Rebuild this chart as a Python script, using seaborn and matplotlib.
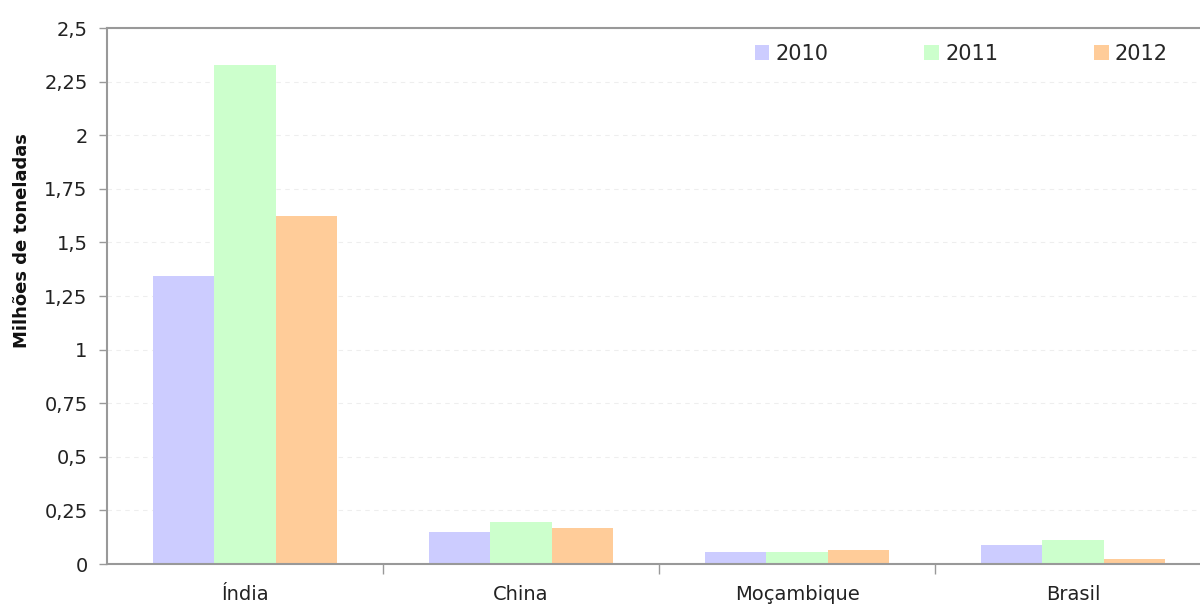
import numpy as np
import pandas as pd
import seaborn as sns
from matplotlib import pyplot as plt
from matplotlib.ticker import FixedLocator, FuncFormatter

# dados
paises = ['Índia', 'China', 'Moçambique', 'Brasil']
anos = ['2010', '2011', '2012']
v2010 = [1.343, 0.149, 0.056, 0.089]
v2011 = [2.327, 0.196, 0.056, 0.112]
v2012 = [1.623, 0.168, 0.065, 0.023]
cores = ['#CCCCFF', '#CCFFCC', '#FFCC99']

df = pd.DataFrame({'pais': paises * 3,
                   'ano': [a for a in anos for _ in paises],
                   'valor': v2010 + v2011 + v2012})

sns.set_theme(style='white')
plt.rcParams['font.family'] = ['DejaVu Sans']

fig = plt.figure(figsize=(12, 6.05), dpi=100)
ax = fig.add_axes([107/1200, 1 - 564/605, 1104/1200, 536/605])

sns.barplot(data=df, x='pais', y='valor', hue='ano', palette=cores,
            width=0.67, saturation=1, edgecolor='none', ax=ax)

ax.set_xlim(-0.5, 3.5)
ax.set_ylim(0, 2.5)
ax.set_yticks(np.arange(0, 2.51, 0.25))
ax.yaxis.set_major_formatter(FuncFormatter(lambda v, p: ('%g' % v).replace('.', ',')))
ax.yaxis.grid(True, color='#eeeeee', linestyle=(0, (4, 4)), linewidth=0.8)
ax.set_axisbelow(True)

ax.xaxis.set_minor_locator(FixedLocator([0.5, 1.5, 2.5]))
ax.tick_params(axis='x', which='major', length=0, labelsize=14, pad=15, colors='#222222')
ax.tick_params(axis='x', which='minor', length=7, width=1, color='#999999', bottom=True)
ax.tick_params(axis='y', length=6, width=1, color='#999999', left=True, labelsize=14,
               colors='#222222', pad=8)

for s in ['left', 'top', 'bottom']:
    ax.spines[s].set_color('#999999')
    ax.spines[s].set_linewidth(1.5)
ax.spines['right'].set_visible(False)

ax.set_xlabel('')
ax.set_ylabel('Milhões de toneladas', fontsize=13, fontweight='bold', labelpad=10, color='#111111')
ax.yaxis.set_label_coords(-0.069, 0.604)

ax.legend(loc='upper right', bbox_to_anchor=(0.978, 1.005), ncol=3, frameon=False,
          fontsize=15, handlelength=0.7, handleheight=0.7, handletextpad=0.3,
          columnspacing=4.6)

plt.savefig('out.png', dpi=100)
